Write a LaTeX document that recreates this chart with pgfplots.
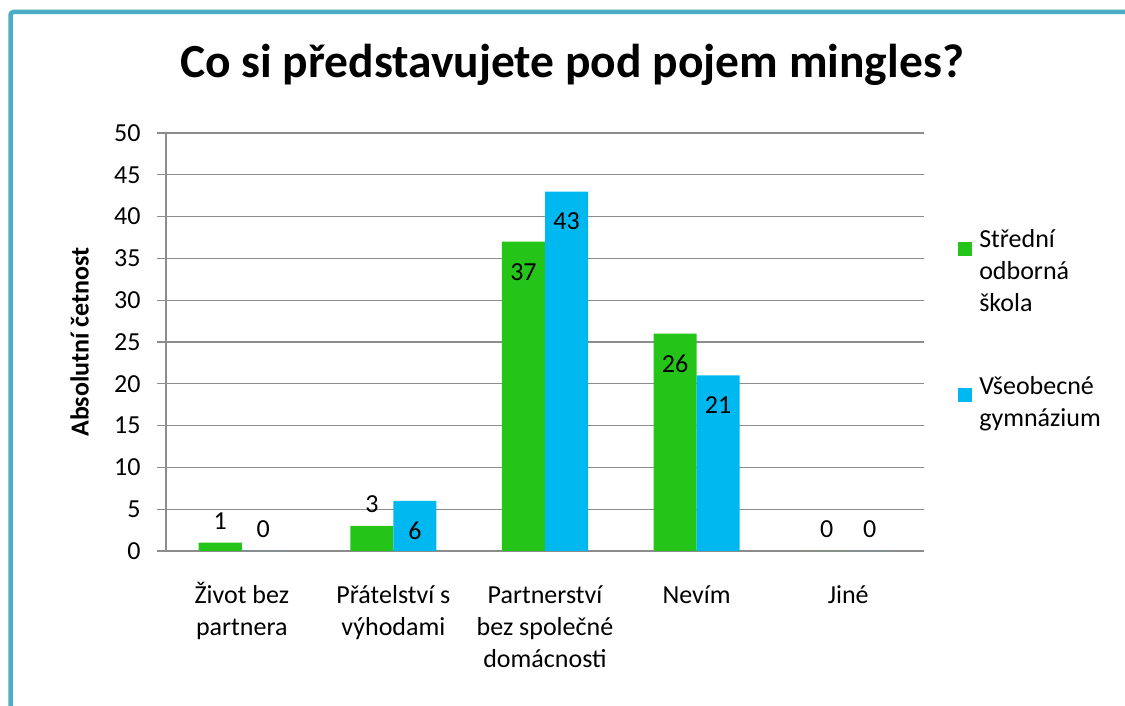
\documentclass[border=0pt]{standalone}
\usepackage{fontspec}
\setmainfont{Carlito}
\usepackage{pgfplots}
\pgfplotsset{compat=1.18}
\definecolor{frameblue}{HTML}{4BACC6}
\definecolor{sgreen}{HTML}{24C418}
\definecolor{gblue}{HTML}{00B8F0}
\definecolor{axgray}{HTML}{8C8C8C}
\newcommand{\lblfont}{\fontsize{26}{32}\selectfont}
\begin{document}
\begin{tikzpicture}[x=1pt,y=1pt]
\useasboundingbox (0,0) rectangle (1125,706);
\begin{scope}
  \clip (0,0) rectangle (1125,706);
  \draw[frameblue, line width=4.5pt, rounded corners=3pt] (10.5,-20) |- (1145,694);
\end{scope}
\node[font=\fontsize{47.5}{52}\selectfont\bfseries] at (572,641) {Co si představujete pod pojem mingles?};
\begin{axis}[
  at={(166pt,155pt)}, anchor=south west,
  scale only axis, width=758pt, height=418pt,
  ybar,
  xmin=-0.5, xmax=4.5, ymin=0, ymax=50,
  axis x line=bottom, axis y line=left,
  axis line style={axgray, line width=1.2pt, -},
  xtick={0,1,2,3,4},
  xticklabels={{\vphantom{Ž}Život bez\\partnera},{\vphantom{Ž}Přátelství s\\výhodami},{\vphantom{Ž}Partnerství\\bez společné\\domácnosti},{\vphantom{Ž}Nevím},{\vphantom{Ž}Jiné}},
  xtick style={draw=none},
  xticklabel style={align=center, font=\lblfont, yshift=-19pt},
  ytick={0,5,...,50},
  ytick style={axgray, line width=1.2pt},
  tick align=outside, major tick length=9pt,
  yticklabel style={font=\lblfont, xshift=-13pt},
  /pgf/number format/assume math mode=true,
  ymajorgrids, grid style={axgray, line width=1.2pt},
  ylabel={Absolutní četnost},
  ylabel style={font=\fontsize{26}{30}\selectfont\bfseries, at={(axis description cs:-0.114,0.5)}, anchor=center},
  legend style={at={(1.041,0.78)}, anchor=north west, draw=none, fill=none,
    font=\lblfont, cells={align=left, anchor=west}, row sep=60pt},
  nodes near coords,
  visualization depends on={rawy \as \ry},
  every node near coord/.append style={font=\lblfont, anchor=center,
    yshift={ifthenelse(\ry>4,-30,22)}},
]
\addplot[bar width=0.284, bar shift=-0.142, fill=sgreen, draw=none,
  legend image code/.code={\fill[sgreen] (0pt,15pt) rectangle (14pt,29pt); \path[draw=none,fill=none] (0pt,15pt) -- (19pt,15pt);}]
  coordinates {(0,1) (1,3) (2,37) (3,26) (4,0)};
\addlegendentry{Střední\\odborná\\škola}
\addplot[bar width=0.284, bar shift=0.142, fill=gblue, draw=none,
  legend image code/.code={\fill[gblue] (0pt,0pt) rectangle (14pt,14pt); \path[draw=none,fill=none] (0pt,0pt) -- (19pt,0pt);}]
  coordinates {(0,0) (1,6) (2,43) (3,21) (4,0)};
\addlegendentry{Všeobecné\\gymnázium}
\end{axis}
\end{tikzpicture}
\end{document}
